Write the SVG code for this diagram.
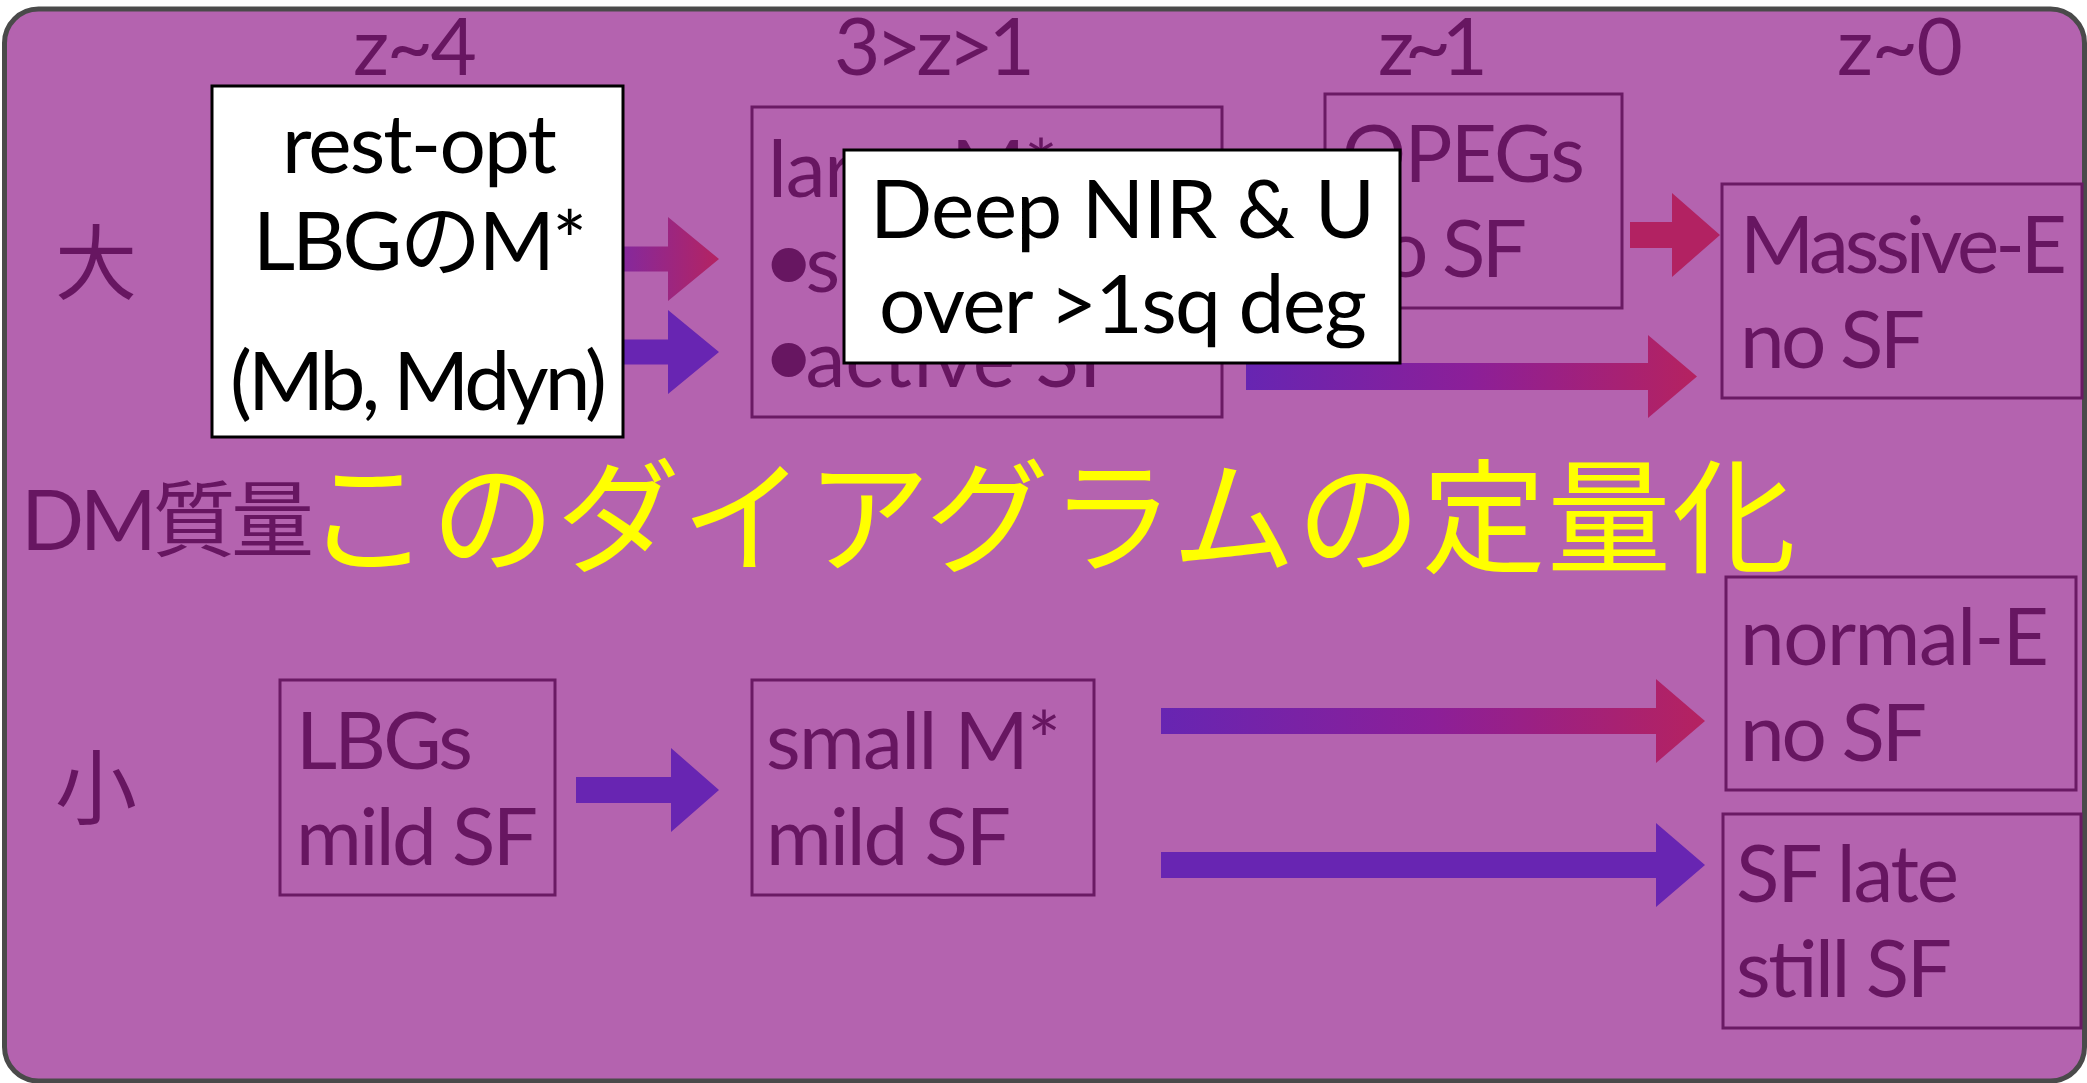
<svg xmlns="http://www.w3.org/2000/svg" width="2087" height="1083" viewBox="0 0 2087 1083">
  <defs>
    <linearGradient id="gradPR" x1="0" y1="0" x2="1" y2="0">
      <stop offset="0" stop-color="#6725b2"/>
      <stop offset="0.5" stop-color="#8c1f98"/>
      <stop offset="1" stop-color="#b52260"/>
    </linearGradient>
    <linearGradient id="gradShort" x1="0" y1="0" x2="1" y2="0">
      <stop offset="0" stop-color="#7a2aaa"/>
      <stop offset="1" stop-color="#b42362"/>
    </linearGradient>
    <style>
      .t { font-family: "Lato", "Noto Sans CJK JP", sans-serif; }
      .dark { fill: #671661; }
      .hdr { font-size: 80px; }
      .lbl { font-size: 80px; }
      .bul { font-size: 92px; }
      .cjk { font-family: "Noto Sans CJK JP", sans-serif; font-size: 82px; fill: #671661; }
      .box { fill: none; stroke: #6a1a64; stroke-width: 3; }
      .wbox { fill: #ffffff; stroke: #000000; stroke-width: 3; }
      .blk { fill: #000000; font-size: 82px; }
      .purple { fill: #6825b2; }
      .crimson { fill: #b22262; }
    </style>
  </defs>

  <!-- slide panel -->
  <rect x="4.5" y="9" width="2080" height="1072" rx="34" ry="34" fill="#b463af" stroke="#4a4a4a" stroke-width="5"/>

  <!-- column headers -->
  <g id="headers" class="t dark hdr">
    <text x="353" y="75" textLength="124">z~4</text>
    <text x="834" y="75" textLength="201">3&gt;z&gt;1</text>
    <text x="1378" y="75" textLength="110">z~1</text>
    <text x="1837" y="75" textLength="126">z~0</text>
  </g>

  <!-- row labels -->
  <g id="row-labels">
    <text class="cjk" x="96" y="293" text-anchor="middle">大</text>
    <text class="cjk" x="96" y="818" text-anchor="middle">小</text>
    <text class="t dark" x="21" y="550" font-size="83" textLength="293">DM質量</text>
  </g>

  <!-- 3>z>1, massive branch -->
  <g id="node-large">
    <rect class="box" x="752" y="107" width="470" height="310"/>
    <text class="t dark lbl" x="768" y="197" textLength="290">large M*</text>
    <text class="t dark lbl" x="762" y="292"><tspan class="bul">•</tspan><tspan dx="-10">small size</tspan></text>
    <text class="t dark lbl" x="762" y="387"><tspan class="bul">•</tspan><tspan dx="-10">active SF</tspan></text>
  </g>

  <!-- z~1 passive galaxies -->
  <g id="node-opegs">
    <rect class="box" x="1325" y="94" width="297" height="214"/>
    <text class="t dark lbl" x="1342" y="182" textLength="243">OPEGs</text>
    <text class="t dark lbl" x="1342" y="277" textLength="185">no SF</text>
  </g>

  <g id="node-massive-e">
    <rect class="box" x="1722" y="184" width="360" height="214"/>
    <text class="t dark lbl" x="1740" y="273" textLength="327">Massive-E</text>
    <text class="t dark lbl" x="1740" y="368" textLength="185">no SF</text>
  </g>

  <g id="node-normal-e">
    <rect class="box" x="1726" y="577" width="350" height="213"/>
    <text class="t dark lbl" x="1740" y="665" textLength="309">normal-E</text>
    <text class="t dark lbl" x="1740" y="761" textLength="187">no SF</text>
  </g>

  <g id="node-sf-late">
    <rect class="box" x="1723" y="814" width="358" height="214"/>
    <text class="t dark lbl" x="1736" y="902" textLength="223">SF late</text>
    <text class="t dark lbl" x="1736" y="997" textLength="216">still SF</text>
  </g>

  <g id="node-lbgs">
    <rect class="box" x="280" y="680" width="275" height="215"/>
    <text class="t dark lbl" x="296" y="769" textLength="177">LBGs</text>
    <text class="t dark lbl" x="296" y="865" textLength="242">mild SF</text>
  </g>

  <g id="node-small">
    <rect class="box" x="752" y="680" width="342" height="215"/>
    <text class="t dark lbl" x="766" y="769" textLength="295">small M*</text>
    <text class="t dark lbl" x="766" y="865" textLength="245">mild SF</text>
  </g>

  <!-- block arrows -->
  <g id="connectors">
    <polygon fill="url(#gradShort)" points="600,246.5 668,246.5 668,217 719,259 668,301 668,271.5 600,271.5"/>
    <polygon class="purple" points="600,339.5 668,339.5 668,310 719,352 668,394 668,364.5 600,364.5"/>
    <polygon class="crimson" points="1630,222 1672,222 1672,193 1720,235 1672,277 1672,248 1630,248"/>
    <polygon fill="url(#gradPR)" points="1246,363 1648,363 1648,335 1697,376.5 1648,418 1648,390 1246,390"/>
    <polygon class="purple" points="576,777 671,777 671,748 719,790 671,832 671,803 576,803"/>
    <polygon fill="url(#gradPR)" points="1161,708 1656,708 1656,679 1705,721 1656,763 1656,734 1161,734"/>
    <polygon class="purple" points="1161,852 1656,852 1656,823 1705,865 1656,907 1656,878 1161,878"/>
  </g>

  <!-- z~4 rest-frame optical note -->
  <g id="node-restopt">
    <rect class="wbox" x="212" y="86" width="411" height="351"/>
    <text class="t blk" x="282" y="173" textLength="275">rest-opt</text>
    <text class="t blk" x="253" y="270" textLength="334">LBGのM*</text>
    <text class="t blk" x="230" y="410" textLength="377">(Mb, Mdyn)</text>
  </g>

  <!-- survey note -->
  <g id="node-survey">
    <rect class="wbox" x="844" y="150" width="556" height="213"/>
    <text class="t blk" x="870" y="238" font-size="86" textLength="505">Deep NIR &amp; U</text>
    <text class="t blk" x="879" y="333" font-size="86" textLength="488">over &gt;1sq deg</text>
  </g>

  <!-- title -->
  <g id="title">
    <text x="306" y="563" font-family="Noto Sans CJK JP, sans-serif" font-size="124" fill="#ffff00" textLength="1490">このダイアグラムの定量化</text>
  </g>
</svg>
